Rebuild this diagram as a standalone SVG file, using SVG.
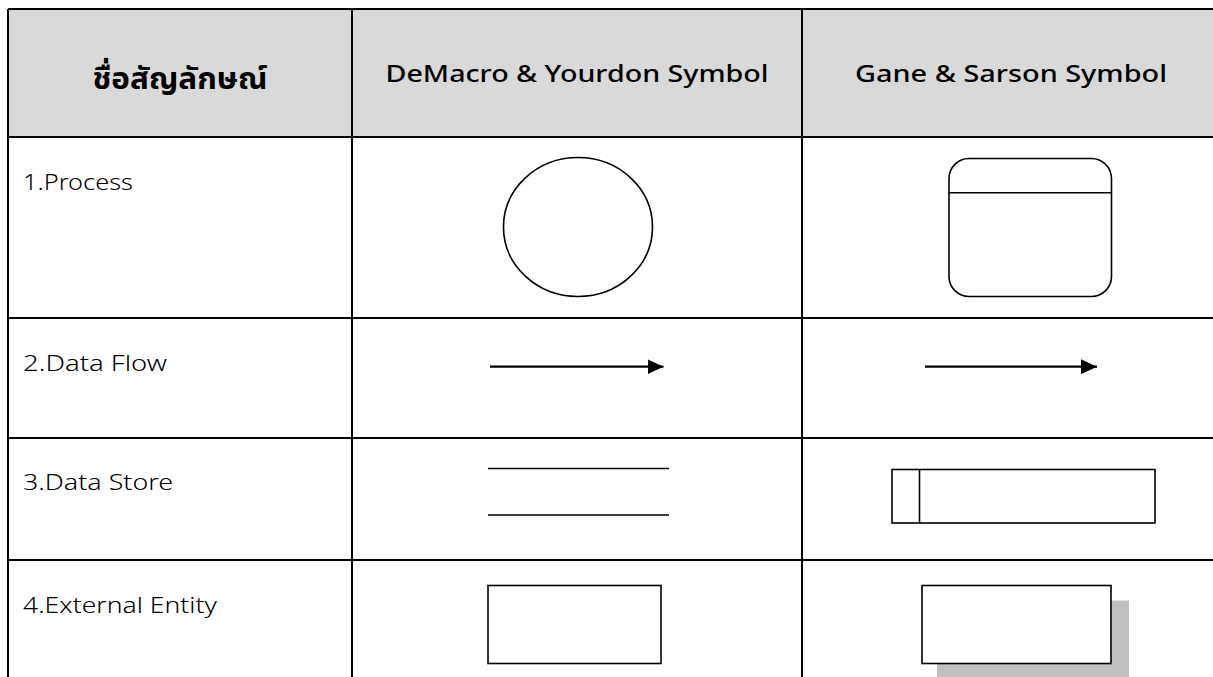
<svg xmlns="http://www.w3.org/2000/svg" width="1213" height="677" viewBox="0 0 1213 677">
<style>
.grid{stroke:#000;stroke-width:2;fill:none}
.sym{stroke:#000;stroke-width:1.6;fill:#fff}
.hd{font-family:"Noto Sans","DejaVu Sans","Liberation Sans",sans-serif;font-size:24px;font-weight:500;fill:#000;text-anchor:middle}
.th{font-family:"Noto Sans Thai","Noto Sans","DejaVu Sans",sans-serif;font-size:30px;font-weight:bold;fill:#000;text-anchor:middle}
.lb{font-family:"Noto Sans","Liberation Sans",sans-serif;font-size:22px;font-weight:300;fill:#000}
</style>
<defs>
<marker id="ah" markerWidth="16" markerHeight="15" refX="16" refY="7.5" orient="auto" markerUnits="userSpaceOnUse">
<path d="M0,0 L16,7.5 L0,15 Z" fill="#000"/>
</marker>
</defs>
<rect width="1213" height="677" fill="#fff"/>
<g id="table">
<rect x="8" y="9" width="1215" height="128" fill="#d9d9d9"/>
<path class="grid" d="M8,9 H1213 M8,137 H1213 M8,318 H1213 M8,438 H1213 M8,560 H1213 M8,9 V677 M352,9 V677 M802,9 V677"/>
</g>
<g id="headers">
<text class="th" x="180" y="89" textLength="175" lengthAdjust="spacingAndGlyphs">ชื่อสัญลักษณ์</text>
<text class="hd" x="577" y="82" textLength="383" lengthAdjust="spacingAndGlyphs">DeMacro &amp; Yourdon Symbol</text>
<text class="hd" x="1011" y="82" textLength="312" lengthAdjust="spacingAndGlyphs">Gane &amp; Sarson Symbol</text>
</g>
<g id="labels">
<text class="lb" x="23" y="190" textLength="110" lengthAdjust="spacingAndGlyphs">1.Process</text>
<text class="lb" x="23" y="371" textLength="144" lengthAdjust="spacingAndGlyphs">2.Data Flow</text>
<text class="lb" x="23" y="490" textLength="150" lengthAdjust="spacingAndGlyphs">3.Data Store</text>
<text class="lb" x="23" y="613" textLength="194" lengthAdjust="spacingAndGlyphs">4.External Entity</text>
</g>
<g id="dm-process"><ellipse class="sym" cx="578" cy="227" rx="74.5" ry="69.5"/></g>
<g id="gs-process">
<rect class="sym" x="949" y="158.5" width="162.5" height="138" rx="20" ry="20"/>
<line class="sym" x1="949" y1="192.7" x2="1111.5" y2="192.7"/>
</g>
<g id="connectors">
<line x1="490" y1="366.7" x2="663.5" y2="366.7" stroke="#000" stroke-width="2.2" marker-end="url(#ah)"/>
<line x1="925" y1="366.7" x2="1097" y2="366.7" stroke="#000" stroke-width="2.2" marker-end="url(#ah)"/>
</g>
<g id="dm-store">
<line class="sym" x1="488" y1="468.5" x2="669" y2="468.5"/>
<line class="sym" x1="488" y1="515" x2="669" y2="515"/>
</g>
<g id="gs-store">
<rect class="sym" x="892" y="469.5" width="263" height="53.5"/>
<line class="sym" x1="919.5" y1="469.5" x2="919.5" y2="523"/>
</g>
<g id="dm-entity"><rect class="sym" x="488" y="585.5" width="173" height="78"/></g>
<g id="gs-entity">
<rect x="937" y="600.5" width="192" height="80" fill="#c0c0c0"/>
<rect class="sym" x="922" y="585.5" width="189" height="78"/>
</g>
</svg>
